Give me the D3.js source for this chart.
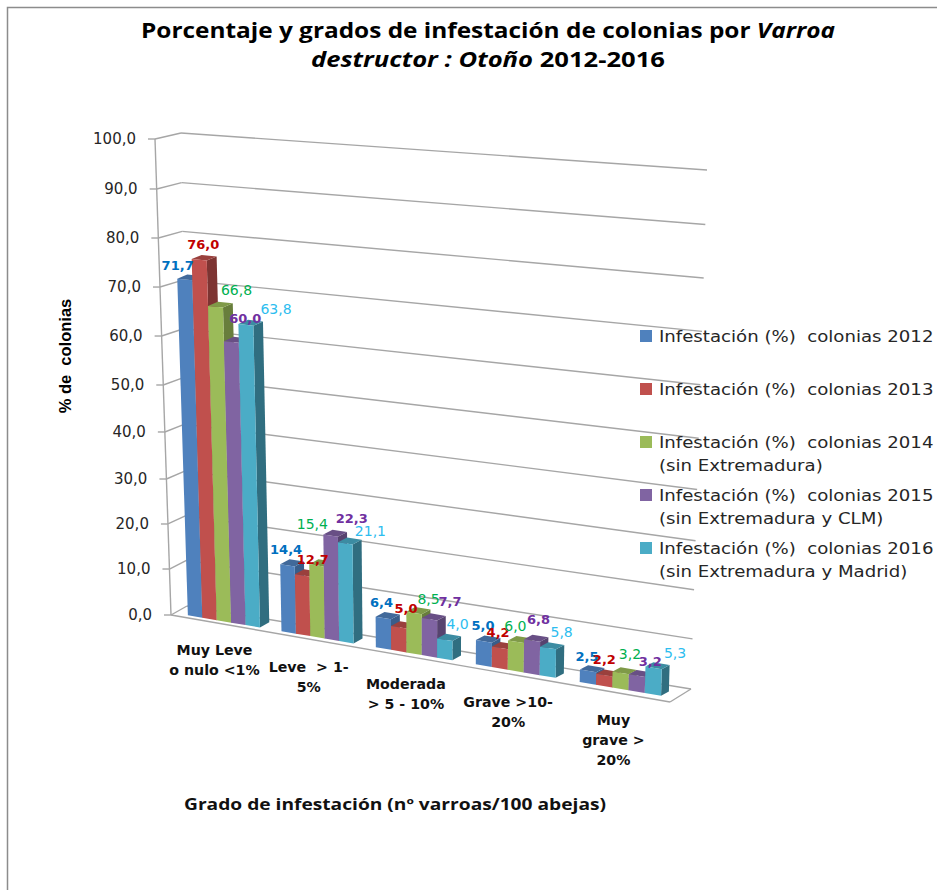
<!DOCTYPE html>
<html><head><meta charset="utf-8"><script src="https://d3js.org/d3.v7.min.js"></script>
<style>html,body{margin:0;padding:0;background:#fff}svg{display:block}text{white-space:pre}</style></head>
<body><svg id="c" width="937" height="890"></svg>
<script>
const categories=[["Muy Leve","o nulo <1%"],["Leve  > 1-","5%"],["Moderada","> 5 - 10%"],["Grave >10-","20%"],["Muy","grave >","20%"]];
const s2012=[71.7,14.4,6.4,5.0,2.5];
const s2013=[76.0,12.7,5.0,4.2,2.2];
const s2014=[66.8,15.4,8.5,6.0,3.2];
const s2015=[60.0,22.3,7.7,6.8,3.2];
const s2016=[63.8,21.1,4.0,5.8,5.3];
const series=[s2012,s2013,s2014,s2015,s2016];
const legendNames=[["Infestación (%)  colonias 2012"],["Infestación (%)  colonias 2013"],["Infestación (%)  colonias 2014","(sin Extremadura)"],["Infestación (%)  colonias 2015","(sin Extremadura y CLM)"],["Infestación (%)  colonias 2016","(sin Extremadura y Madrid)"]];
const valueTicks=[0,10,20,30,40,50,60,70,80,90,100];
const faceColors=["#4F81BD","#C0504D","#9BBB59","#8064A2","#4BACC6"];
const sideColors=["#385D8A","#7D3432","#687E3C","#57436F","#306E80"];
const topColors=["#41699A","#9A403D","#7F9A48","#684F85","#3C8CA2"];
const labelColors=["#0070C0","#C00000","#00B050","#7030A0","#2DBDEF"];
const labelWeights=["bold","bold","normal","bold","normal"];
// hand placement of the value labels relative to each bar's top, per series then category
const labelDx=[[-7,-1,-2,-2,-3],[4,11,7,-3,-2],[21,-4,14,-2,7],[14,21,20,5,11],[30,25,12,12,19]];
const labelDy=[[-14,-17,-17,-17,-16],[-16,-17,-20,-17,-18],[-17,-42,-15,-17,-21],[-24,-18,-19,-23,-16],[-16,-13,-17,-17,-17]];

const svg=d3.select("#c");
const FONT="'DejaVu Sans',sans-serif";
const uScale=d3.scaleLinear().domain([0,1,2,3,4,5]).range([0,.1888,.3775,.578,.787,1]);
const vScale=d3.scaleLinear().domain(valueTicks).range([0,.0966,.1912,.2857,.3845,.4832,.5861,.689,.792,.895,1]);
const box={fb0:[171,615],bb0:[187,606],ft0:[155,139],bt0:[181,133],fb1:[670,702],bb1:[691,689],ft1:[685,183],bt1:[707,170]};
const barBox={fb0:[172.5,615],bb0:[188.5,606],ft0:[156.5,139],bt0:[173.5,133],fb1:[669,699],bb1:[682,692],ft1:[684,180],bt1:[697,173]};
const mix=(a,b,t)=>[a[0]+(b[0]-a[0])*t,a[1]+(b[1]-a[1])*t];
function project(B,c,d,v){const u=uScale(c),w=vScale(v);
 const b0=mix(B.fb0,B.bb0,d),t0=mix(B.ft0,B.bt0,d),b1=mix(B.fb1,B.bb1,d),t1=mix(B.ft1,B.bt1,d);
 return mix(mix(b0,t0,w),mix(b1,t1,w),u);}
const P=(c,d,v)=>project(box,c,d,v), Q=(c,d,v)=>project(barBox,c,d,v);
const pts=a=>a.map(p=>p.join(",")).join(" ");
const line=(p,q,col="#a6a6a6",w=1.4)=>svg.append("line").attr("x1",p[0]).attr("y1",p[1]).attr("x2",q[0]).attr("y2",q[1]).attr("stroke",col).attr("stroke-width",w);
const fit=(sel,len)=>sel.attr("textLength",len).attr("lengthAdjust","spacingAndGlyphs");
const stretch=(sel,f)=>fit(sel,sel.node().getComputedTextLength()*f);

// frame
svg.append("path").attr("d","M7.5,890V7.5H937").attr("fill","none").attr("stroke","#8c8c8c").attr("stroke-width",1.5);

// title
const titleAttrs=s=>s.attr("x",488).attr("text-anchor","middle").attr("font-family","'Open Sans',sans-serif").attr("font-weight","bold").attr("font-size",22).attr("fill","#000");
const tt=svg.append("text").attr("y",38).call(titleAttrs);
tt.append("tspan").text("Porcentaje y grados de infestación de colonias por ");tt.append("tspan").attr("font-style","italic").text("Varroa");
fit(tt,694);
const t2=svg.append("text").attr("y",67).call(titleAttrs);
t2.append("tspan").attr("font-style","italic").text("destructor : Otoño");t2.append("tspan").text(" 2012-2016");
fit(t2,354);

// walls: gridlines, axis, ticks
valueTicks.forEach(v=>{
 const a=P(0,0,v),b=P(0,1,v),c=P(5,1,v);
 line([a[0]-7,a[1]],a);line(a,b);line(b,c);
 svg.append("text").attr("x",a[0]-19).attr("y",a[1]+5).attr("text-anchor","end").attr("font-family",FONT).attr("font-size",15).attr("fill","#262626").text(d3.format(".1f")(v).replace(".",","));
});
line(P(0,0,0),P(0,0,100));
line(P(0,0,0),P(5,0,0));line(P(5,0,0),P(5,1,0));

// bars
const gapStart=.13,barW=.154,d0=.2,d1=.8;
categories.forEach((cat,i)=>{
 series.forEach((vals,j)=>{
  const v=vals[i],c0=i+gapStart+j*barW,c1=c0+barW,g=svg.append("g");
  g.append("polygon").attr("points",pts([Q(c1,d0,0),Q(c1,d1,0),Q(c1,d1,v),Q(c1,d0,v)])).attr("fill",sideColors[j]);
  g.append("polygon").attr("points",pts([Q(c0,d0,v),Q(c1,d0,v),Q(c1,d1,v),Q(c0,d1,v)])).attr("fill",topColors[j]);
  g.append("polygon").attr("points",pts([Q(c0,d0,0),Q(c1,d0,0),Q(c1,d0,v),Q(c0,d0,v)])).attr("fill",faceColors[j]);
 });
});
// value labels
categories.forEach((cat,i)=>{
 series.forEach((vals,j)=>{
  const v=vals[i],p=P(i+gapStart+(j+.5)*barW,d0,v);
  svg.append("text").attr("x",p[0]+labelDx[j][i]).attr("y",p[1]+labelDy[j][i]+5).attr("text-anchor","middle").attr("font-family",FONT).attr("font-size",labelWeights[j]=="bold"?13:14).attr("font-weight",labelWeights[j]).attr("fill",labelColors[j]).text(v.toFixed(1).replace(".",","));
 });
});
// category labels
categories.forEach((cat,i)=>{
 const p=P(i+gapStart+2.5*barW,0,0);
 cat.forEach((s,k)=>svg.append("text").attr("x",p[0]-5).attr("y",p[1]+32+k*20).attr("text-anchor","middle").attr("font-family",FONT).attr("font-weight","bold").attr("font-size",14.2).attr("fill","#111").text(s));
});
// axis titles
svg.append("text").attr("transform","translate(71,356) rotate(-90)").attr("text-anchor","middle").attr("font-family","'Liberation Sans Narrow','Liberation Sans',sans-serif").attr("font-weight","bold").attr("font-size",16.5).attr("fill","#000").text("% de  colonias");
const xt=svg.append("text").attr("x",395).attr("y",810).attr("text-anchor","middle").attr("font-family","'Open Sans',sans-serif").attr("font-weight","bold").attr("font-size",16).attr("fill","#111").text("Grado de infestación (nº varroas/100 abejas)");
fit(xt,422);
// legend
const legendY=[336,389,442,495,548];
legendNames.forEach((ls,j)=>{
 svg.append("rect").attr("x",640).attr("y",legendY[j]-6).attr("width",12).attr("height",12).attr("fill",faceColors[j]);
 ls.forEach((s,k)=>{
  const t=svg.append("text").attr("x",659).attr("y",legendY[j]+5.5+k*23.5).attr("font-family",FONT).attr("font-size",16).attr("fill","#262626").text(s);
  stretch(t,1.133);
 });
});
</script></body></html>
